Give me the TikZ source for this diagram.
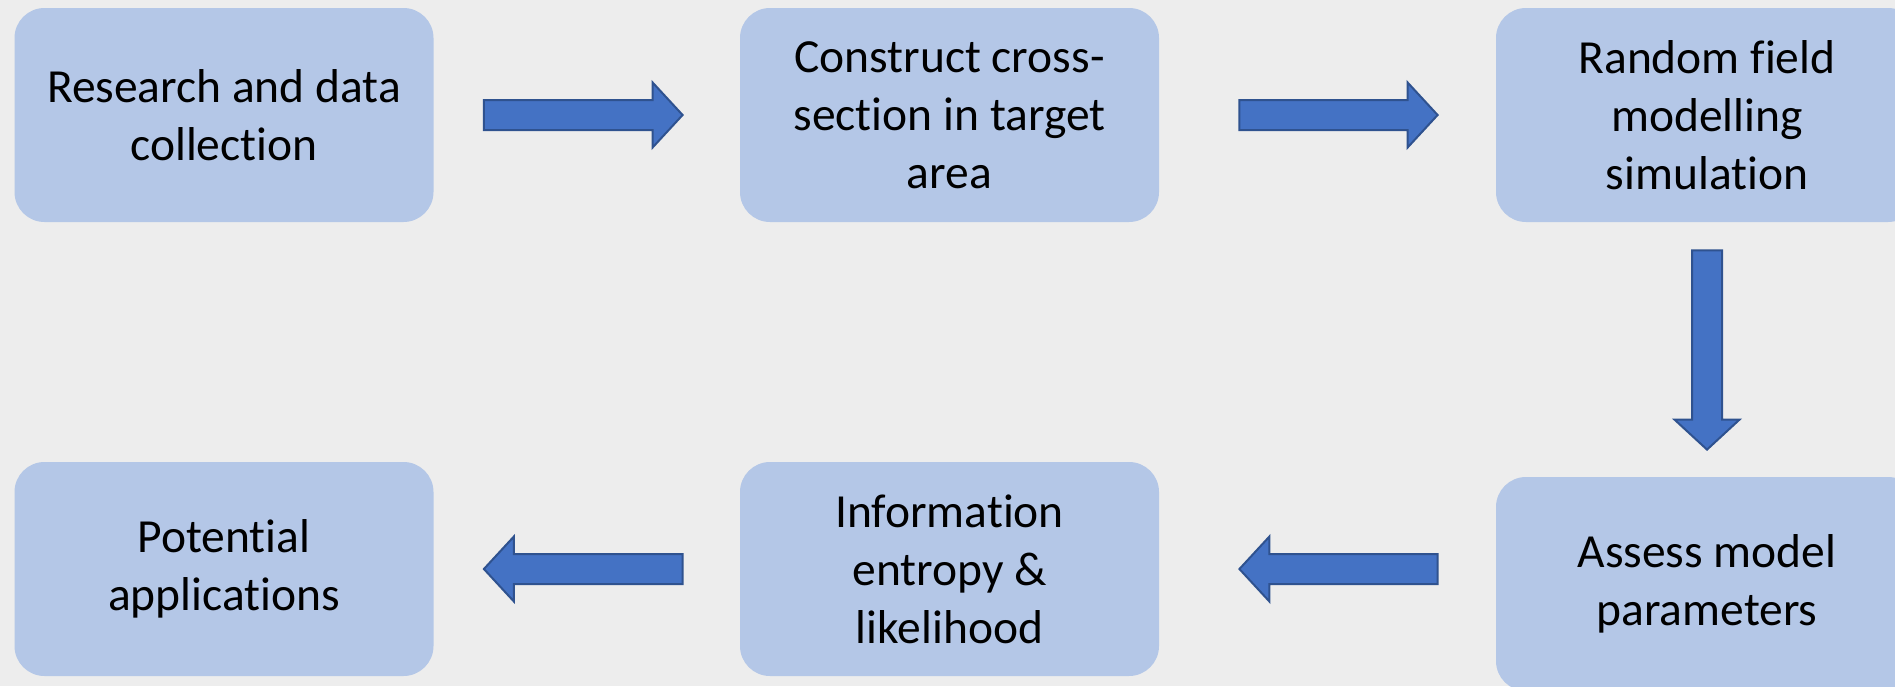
\documentclass[tikz,border=0pt]{standalone}
\usepackage{fontspec}
\setmainfont{Carlito}[Ligatures=NoCommon]
\usetikzlibrary{calc}
\definecolor{bgc}{HTML}{EDEDED}
\definecolor{boxc}{HTML}{B4C7E7}
\definecolor{arrc}{HTML}{4472C4}
\definecolor{arrd}{HTML}{2F528F}
\tikzset{
  stepbox/.style={rectangle, rounded corners=15pt, fill=boxc, draw=none,
    minimum width=209.5pt, minimum height=107pt, align=center,
    font=\fontsize{23.75}{29}\selectfont, text=black, inner sep=0pt},
  blk/.style={fill=arrc, draw=arrd, line width=1pt, line join=miter}
}
\newcommand\blockarrow[2]{%
  \coordinate (ba-h) at ($(#2)!15pt!(#1)$);
  \draw[blk] ($(#1)!7.5pt!90:(#2)$) -- ($(ba-h)!7.5pt!90:(#2)$) -- ($(ba-h)!16.25pt!90:(#2)$)
    -- (#2) -- ($(ba-h)!16.25pt!-90:(#2)$) -- ($(ba-h)!7.5pt!-90:(#2)$)
    -- ($(#1)!7.5pt!-90:(#2)$) -- cycle;}
\begin{document}
\begin{tikzpicture}[x=0.5pt,y=-0.5pt]
\useasboundingbox (0,0) rectangle (1895,686);
\fill[bgc] (0,0) rectangle (1895,686);
\clip (0,0) rectangle (1895,686);
\node[stepbox] (b1) at (224,115) {Research and data\\collection};
\node[stepbox] (b2) at (949.5,115) {Construct cross-\\section in target\\area};
\node[stepbox, minimum width=211pt] (b3) at (1707,115) {Random field\\modelling\\simulation};
\node[stepbox, minimum width=211pt] (b4) at (1707,584) {Assess model\\parameters};
\node[stepbox] (b5) at (224,569) {Potential\\applications};
\node[stepbox] (b6) at (949.5,569) {Information\\entropy \&\\likelihood};
% arrow endpoints
\coordinate (a1s) at ($(b1.east)+(25pt,0)$);
\coordinate (a1e) at ($(b2.west)+(-28.5pt,0)$);
\coordinate (a2s) at ($(b2.east)+(40pt,0)$);
\coordinate (a2e) at ($(b3.west)+(-29pt,0)$);
\coordinate (a3s) at ($(b3.south)+(0,-14pt)$);
\coordinate (a3e) at ($(b4.north)+(0,13.5pt)$);
\coordinate (a4s) at ($(b4.west)+(-29pt,0)+(0,7.5pt)$);
\coordinate (a4e) at ($(b6.east)+(40pt,0)$);
\coordinate (a5s) at ($(b6.west)+(-28.5pt,0)$);
\coordinate (a5e) at ($(b5.east)+(25pt,0)$);
\blockarrow{a1s}{a1e}
\blockarrow{a2s}{a2e}
\blockarrow{a3s}{a3e}
\blockarrow{a4s}{a4e}
\blockarrow{a5s}{a5e}
\end{tikzpicture}
\end{document}
